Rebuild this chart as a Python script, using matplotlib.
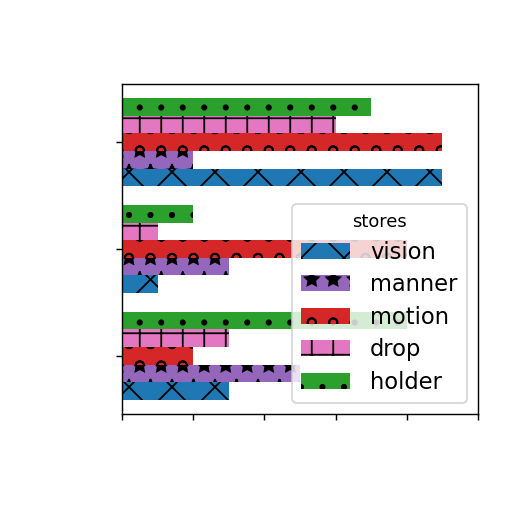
import numpy as np
import matplotlib
matplotlib.use("Agg")
import matplotlib.pyplot as plt

# groups from bottom to top
stores = ['vision', 'manner', 'motion', 'drop', 'holder']
vision = [1.5, 0.5, 4.5]
manner = [2.5, 1.5, 1.0]
motion = [1.0, 4.0, 4.5]
drop = [1.5, 0.5, 3.0]
holder = [4.0, 1.0, 3.5]

series = [vision, manner, motion, drop, holder]
colors = ['tab:blue', 'tab:purple', 'tab:red', 'tab:pink', 'tab:green']
hatches = ['x', '*', 'o', '+', '.']

dpi = 129
fig = plt.figure(figsize=(512 / dpi, 512 / dpi), dpi=dpi)
ax = fig.add_axes([122 / 512, 98 / 512, 356 / 512, 330 / 512])

y = np.arange(len(vision))
h = 0.165
for i, (name, vals) in enumerate(zip(stores, series)):
    ax.barh(y + (i - 2) * h, vals, height=h, color=colors[i],
            hatch=hatches[i], label=name)

ax.set_xlim(0, 5)
ax.set_ylim(-0.545, 2.545)
ax.set_xticks(range(6))
ax.set_xticklabels([])
ax.set_yticks(y)
ax.set_yticklabels([])

ax.legend(title='stores', loc='lower right', fontsize=12.6, title_fontsize=10,
          labelspacing=0.42, handlelength=2.15, handletextpad=0.9)

fig.savefig('out.png', dpi=dpi)
